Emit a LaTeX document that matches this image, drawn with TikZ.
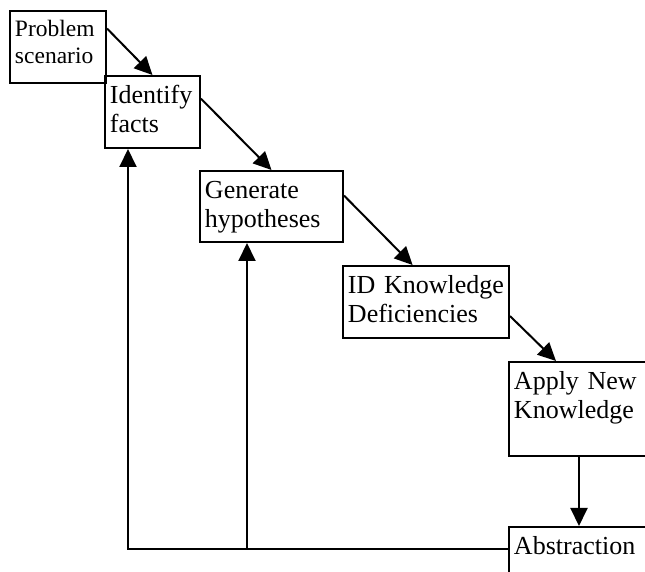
\documentclass[tikz,border=0pt]{standalone}
\usepackage{fontspec}
\setmainfont{Liberation Serif}
\usetikzlibrary{calc,arrows.meta}

\begin{document}
\begin{tikzpicture}[x=0.5pt,y=-0.5pt,
    box/.style={draw, line width=1pt, anchor=north west, align=left,
        inner xsep=2.5pt, inner ysep=0pt, text height=14pt,
        font=\fontsize{13}{14.5}\selectfont},
    arr/.style={line width=1pt, -{Triangle[length=9pt,width=8.5pt]}}]

    % Fix the frame and cut off what runs past it
    \useasboundingbox (0,0) rectangle (645,572);
    \clip (0,0) rectangle (645,572);

    % The steps, going down to the right
    \node[box, text width=43pt, text height=13pt, text depth=23pt,
        font=\fontsize{11.75}{13.25}\selectfont] (prob) at (9,10) {Problem\\scenario};
    \node[box, text width=42.5pt, text depth=22pt] (ident) at (104,75) {Identify\\facts};
    \node[box, text width=66.5pt, text depth=21.5pt] (gen) at (199,170) {Generate\\hypotheses};
    \node[box, text width=78pt, text depth=22pt] (defic) at (342,265) {ID~Knowledge\\Deficiencies};
    \node[box, text width=70pt, text depth=33pt] (apply) at (508,361) {Apply~New\\Knowledge};
    \node[box, text width=70pt, text depth=30pt] (abstr) at (508,526) {Abstraction};

    % Arrows from one step to the next
    \draw[arr] ($(prob.north east)!.25!(prob.south east)$) -- (ident.north);
    \draw[arr] ($(ident.north east)!.32!(ident.south east)$) -- (gen.north);
    \draw[arr] ($(gen.north east)!.35!(gen.south east)$) -- ($(defic.north west)!.42!(defic.north east)$);
    \draw[arr] ($(defic.north east)!.69!(defic.south east)$) -- ($(apply.north west)+(48,0)$);
    \draw[arr] ($(apply.south west)+(71,0)$) coordinate (down) -- (down |- abstr.north);

    % Feedback from the abstraction back up
    \coordinate (back) at ($(abstr.north west)+(0,23)$);
    \coordinate (g) at ($(gen.south west)+(48,0)$);
    \draw[arr] (back) -| ($(ident.south west)+(24,0)$);
    \draw[arr] (g |- back) -- (g);

\end{tikzpicture}
\end{document}
